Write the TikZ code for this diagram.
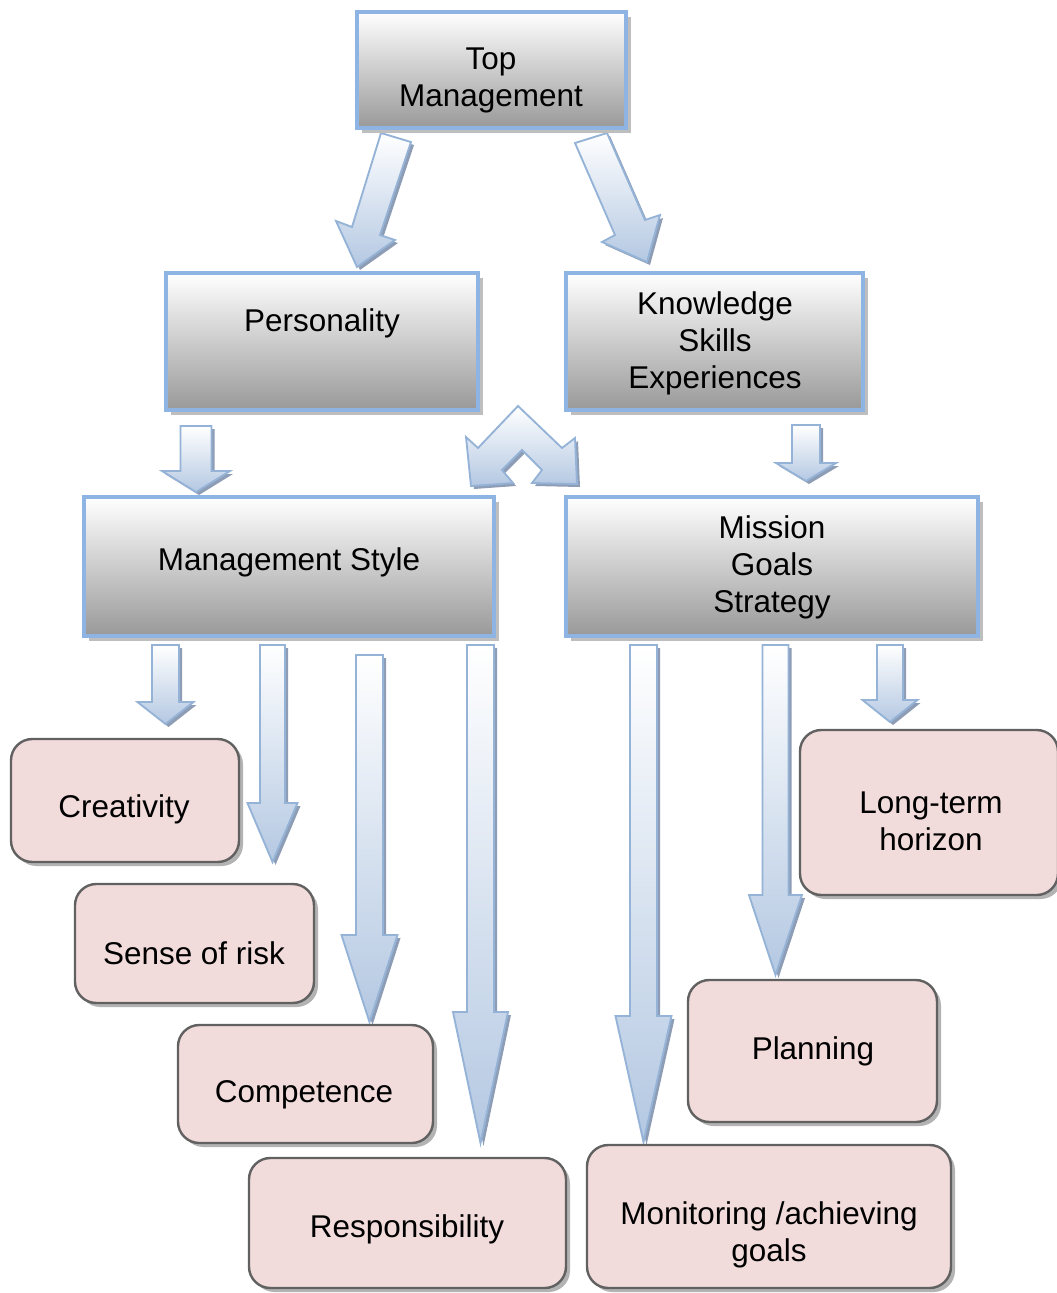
\documentclass[tikz,border=0pt]{standalone}
\usepackage{fontspec}
\setmainfont{Liberation Sans}
\usetikzlibrary{shadows}
\definecolor{boxedge}{HTML}{8DB4E2}
\definecolor{boxgray}{HTML}{999999}
\definecolor{boxshadow}{HTML}{BEBEBE}
\definecolor{pinkfill}{HTML}{F2DCDB}
\definecolor{pinkedge}{HTML}{616161}
\definecolor{pinkshadow}{HTML}{B3B3B3}
\definecolor{arrowblue}{HTML}{B4C8E2}
\definecolor{arrowedge}{HTML}{95B3D7}
\definecolor{arrowshadow}{HTML}{8D9DB5}
\newcommand\dnarrowpath[6]{({#1-#5},#2) -- ({#1+#5},#2) -- ({#1+#5},#3) -- ({#1+#6},#3) -- (#1,#4) -- ({#1-#6},#3) -- ({#1-#5},#3) -- cycle}
\newcommand\dnarrow[6]{\path[ashad,shift={(3,3)}] \dnarrowpath{#1}{#2}{#3}{#4}{#5}{#6};\path[afill] \dnarrowpath{#1}{#2}{#3}{#4}{#5}{#6};}
\newcommand\leftdiag{(381,133) -- (411,142) -- (380,235) -- (395,240) -- (357,267) -- (336,221) -- (352,227) -- cycle}
\newcommand\rightdiag{(575,143) -- (607,133) -- (645,220) -- (660,215) -- (647,262) -- (602,242) -- (615,235) -- cycle}
\newcommand\chevronpath{(518,406) -- (478,448) -- (466,437) -- (471,486) -- (513,483) -- (502,470) -- (522,450) -- (542,470) -- (532,483) -- (577,484) -- (575,438) -- (562,448) -- cycle}
\begin{document}
\begin{tikzpicture}[x=0.75pt,y=-0.75pt,
 gbox/.style={draw=boxedge, line width=2.4pt, top color=white, bottom color=boxgray, inner sep=0pt,
   drop shadow={shadow xshift=3.5pt, shadow yshift=-3.5pt, fill=boxshadow, opacity=1}},
 pbox/.style={draw=pinkedge, line width=1.8pt, fill=pinkfill, rounded corners=16pt, inner sep=0pt,
   drop shadow={shadow xshift=3pt, shadow yshift=-3pt, fill=pinkshadow, opacity=1}},
 txt/.style={font=\fontsize{23.6}{27.75}\selectfont, align=center, inner sep=0pt},
 afill/.style={top color=white, bottom color=arrowblue, draw=arrowedge, line width=1.4pt, line join=miter},
 ashad/.style={fill=arrowshadow}
]
\useasboundingbox (0,0) rectangle (1057,1293);

% arrows (drawn first, under boxes)
\path[ashad,shift={(3,3)}] \leftdiag;
\path[afill] \leftdiag;
\path[ashad,shift={(3,3)}] \rightdiag;
\path[afill] \rightdiag;
\path[ashad,shift={(3,3)}] \chevronpath;
\path[afill] \chevronpath;
\dnarrow{196}{426}{471}{492}{15.5}{34}
\dnarrow{806}{425}{463}{481}{14}{30}
\dnarrow{165.5}{645}{702}{724}{13.5}{28}
\dnarrow{272.5}{645}{803}{862}{12.5}{25}
\dnarrow{369.5}{655}{935}{1022}{13.5}{28}
\dnarrow{480.5}{645}{1012}{1143}{13.5}{27.5}
\dnarrow{643.5}{645}{1016}{1142}{13.5}{28}
\dnarrow{775.5}{645}{895}{975}{13}{26.5}
\dnarrow{890}{645}{700}{722}{13}{27.5}

% gray boxes
\node[gbox, minimum width=201.75pt, minimum height=87pt] (top) at (491.5,70) {};
\node[gbox, minimum width=234pt, minimum height=102.75pt] (pers) at (322,341.5) {};
\node[gbox, minimum width=222.75pt, minimum height=102.75pt] (know) at (714.5,341.5) {};
\node[gbox, minimum width=307.5pt, minimum height=104.25pt] (mstyle) at (289,566.5) {};
\node[gbox, minimum width=309pt, minimum height=104.25pt] (mission) at (772,566.5) {};
\node[txt] (topt) at (491,80) {Top\\Management};
\node[txt] (perst) at (322,323) {Personality};
\node[txt] (knowt) at (715,343) {Knowledge\\Skills\\Experiences};
\node[txt] (mstylet) at (289,562) {Management Style};
\node[txt] (missiont) at (772,567) {Mission\\Goals\\Strategy};

% pink boxes
\node[pbox, minimum width=171pt, minimum height=92.25pt] (creat) at (125,800.5) {};
\node[pbox, minimum width=179.25pt, minimum height=89.25pt] (risk) at (194.5,943.5) {};
\node[pbox, minimum width=191.25pt, minimum height=88.5pt] (comp) at (305.5,1084) {};
\node[pbox, minimum width=237.75pt, minimum height=97.5pt] (resp) at (407.5,1223) {};
\node[pbox, minimum width=273pt, minimum height=107.25pt] (monit) at (769,1216.5) {};
\node[pbox, minimum width=186.75pt, minimum height=106.5pt] (plan) at (812.5,1051) {};
\node[pbox, minimum width=193.5pt, minimum height=123.75pt] (longt) at (929,812.5) {};
\node[txt] (creatt) at (124,809) {Creativity};
\node[txt] (riskt) at (194,953) {Sense of risk};
\node[txt] (compt) at (304,1095) {Competence};
\node[txt] (respt) at (407,1229) {Responsibility};
\node[txt] (monitt) at (769,1235) {Monitoring /achieving\\goals};
\node[txt] (plant) at (813,1051) {Planning};
\node[txt] (longtt) at (931,821) {Long-term\\horizon};
\end{tikzpicture}
\end{document}
